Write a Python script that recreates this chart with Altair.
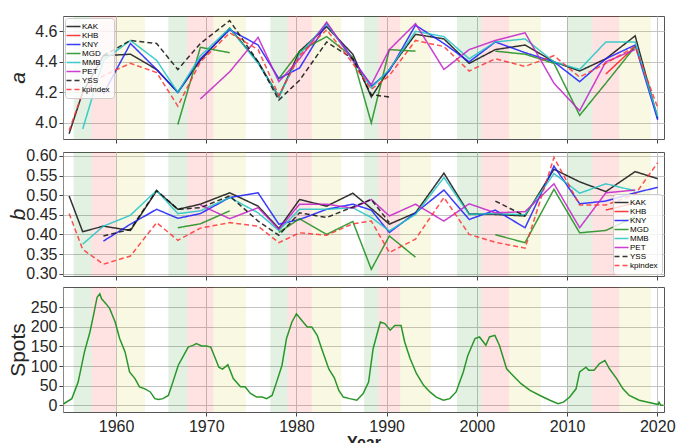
import altair as alt
import pandas as pd

# ---------------- data ----------------
stations = ["KAK", "KHB", "KNY", "MGD", "MMB", "PET", "YSS", "kpindex"]
station_colors = ["#111111", "#ff1a1a", "#1a1aff", "#1a8c1a", "#1fc4c4", "#c21fc9", "#111111", "#ff3333"]
station_dash = [[1, 0], [1, 0], [1, 0], [1, 0], [1, 0], [1, 0], [5, 3], [5, 3]]

years = [1954.8, 1956.3, 1958.6, 1961.6, 1964.5, 1966.85, 1969.35, 1972.6, 1975.75,
         1978.05, 1980.35, 1983.35, 1986.25, 1988.3, 1990.3, 1993.2, 1996.35, 1999.15,
         2002.05, 2005.35, 2008.55, 2011.4, 2014.3, 2017.55, 2020.05]
N = None

a_KAK = [3.93, 4.20, 4.44, 4.45, 4.35, 4.20, 4.41, 4.62, 4.40, 4.17, 4.47, 4.63, 4.45,
         4.17, 4.35, 4.58, 4.55, 4.39, 4.48, 4.51, 4.40, 4.34, 4.42, 4.57, 4.03]
a_KHB = [N, N, N, N, N, N, N, N, N, N, N, N, N, N, N, N, N, N, N, N, N, N, 4.32, 4.50, N]
a_KNY = [N, N, 4.19, 4.52, 4.35, 4.20, 4.42, 4.61, 4.51, 4.29, 4.36, 4.65, 4.42,
         4.24, 4.34, 4.64, 4.52, 4.40, 4.53, 4.46, 4.40, 4.27, 4.42, 4.51, 4.02]
a_MGD = [N, N, N, N, N, 3.99, 4.495, 4.46, N, 4.29, 4.47, 4.565, 4.43,
         4.00, 4.48, 4.47, N, N, 4.47, 4.45, 4.39, 4.05, 4.26, 4.50, N]
a_MMB = [N, 3.96, 4.41, 4.54, 4.41, 4.20, 4.44, 4.62, 4.39, 4.17, 4.45, 4.65, 4.41,
         4.23, 4.35, 4.60, 4.565, 4.42, 4.53, 4.55, 4.40, 4.35, 4.53, 4.53, 4.04]
a_PET = [N, N, N, N, N, N, 4.157, 4.335, 4.56, 4.27, 4.42, 4.66, 4.41,
         4.25, 4.48, 4.65, 4.35, 4.48, 4.54, 4.59, 4.26, 4.08, 4.40, 4.48, N]
a_YSS = [N, N, 4.44, 4.54, 4.52, 4.35, 4.52, 4.67, 4.40, 4.15, 4.28, 4.53, 4.42,
         4.185, 4.17, N, N, N, N, N, N, N, N, N, N]
a_kp = [3.95, 4.20, 4.31, 4.39, 4.33, 4.11, 4.40, 4.59, 4.48, 4.18, 4.44, 4.61, 4.39,
        4.22, 4.31, 4.54, 4.50, 4.34, 4.42, 4.37, 4.44, 4.30, 4.39, 4.50, 4.10]

b_KAK = [0.498, 0.407, 0.421, 0.410, 0.511, 0.464, 0.477, 0.506, 0.472, 0.415, 0.489, 0.472, 0.505,
         0.466, 0.426, 0.455, 0.556, 0.452, 0.451, 0.447, 0.566, 0.534, 0.509, 0.560, 0.542]
b_KHB = [N, N, N, N, N, N, N, N, N, N, N, N, N, N, N, N, N, N, N, N, N, N, 0.462, 0.480, N]
b_KNY = [N, N, 0.383, 0.426, 0.464, 0.441, 0.453, 0.494, 0.506, 0.426, 0.438, 0.464, 0.477,
         0.462, 0.405, 0.455, 0.513, 0.438, 0.462, 0.417, 0.574, 0.478, 0.485, 0.506, 0.520]
b_MGD = [N, N, N, N, N, 0.417, 0.427, 0.460, N, 0.405, 0.440, 0.400, 0.433,
         0.311, 0.396, 0.342, N, N, 0.399, 0.379, 0.515, 0.404, 0.410, 0.445, N]
b_MMB = [N, 0.375, 0.421, 0.449, 0.512, 0.453, 0.460, 0.494, 0.455, 0.410, 0.464, 0.464, 0.468,
         0.443, 0.409, 0.451, 0.545, 0.451, 0.453, 0.450, 0.555, 0.505, 0.529, 0.511, N]
b_PET = [N, N, N, N, N, N, 0.475, 0.440, 0.468, 0.413, 0.477, 0.477, 0.467,
         0.489, 0.447, 0.477, 0.434, 0.478, 0.455, 0.458, 0.529, 0.417, 0.506, 0.513, N]
b_YSS = [N, N, 0.396, 0.413, 0.512, 0.464, 0.468, 0.498, 0.434, 0.398, 0.455, 0.443, 0.470,
         0.489, 0.430, N, N, N, 0.485, 0.447, N, N, N, N, N]
b_kp = [0.453, 0.362, 0.324, 0.345, 0.430, 0.385, 0.416, 0.430, 0.421, 0.379, 0.404, 0.398, 0.427,
        0.434, 0.354, 0.388, 0.494, 0.400, 0.380, 0.365, 0.596, 0.475, 0.475, 0.502, 0.583]

spot_year = [1954.2, 1955.1, 1955.8, 1956.5, 1957.1, 1957.5, 1957.9, 1958.2, 1958.4, 1958.9,
             1959.3, 1959.9, 1960.4, 1961.0, 1961.5, 1962.1, 1962.6, 1963.2, 1963.8, 1964.3,
             1964.7, 1965.2, 1965.8, 1966.3, 1966.9, 1967.5, 1968.0, 1968.6, 1968.9, 1969.5,
             1970.0, 1970.5, 1970.8, 1971.4, 1971.8, 1972.4, 1973.0, 1973.8, 1974.3, 1974.9,
             1975.6, 1976.2, 1976.7, 1977.3, 1977.8, 1978.4, 1978.9, 1979.5, 1980.0, 1980.6,
             1981.2, 1981.7, 1982.3, 1982.8, 1983.6, 1984.2, 1984.7, 1985.2, 1985.9, 1986.7,
             1987.4, 1988.0, 1988.5, 1989.3, 1989.8, 1990.4, 1990.9, 1991.6, 1992.0, 1992.6,
             1993.3, 1994.1, 1994.8, 1995.5, 1996.3, 1997.0, 1997.7, 1998.5, 1999.0, 1999.8,
             2000.3, 2001.0, 2001.4, 2002.0, 2002.5, 2003.3, 2004.0, 2004.9, 2005.9, 2007.0,
             2008.1, 2009.0, 2009.6, 2010.3, 2011.0, 2011.4, 2012.1, 2012.4, 2013.0, 2013.6,
             2014.2, 2014.7, 2015.5, 2016.2, 2016.9, 2018.0, 2019.1, 2020.1, 2020.2, 2020.4,
             2020.7]
spot_val = [4, 17, 59, 136, 186, 229, 275, 284, 271, 258,
            246, 212, 170, 136, 85, 68, 47, 42, 34, 17,
            15, 17, 25, 59, 102, 127, 148, 153, 157, 151,
            151, 148, 131, 97, 92, 103, 68, 47, 47, 30,
            21, 21, 17, 25, 59, 102, 170, 212, 233, 216,
            199, 199, 178, 144, 92, 70, 38, 21, 17, 13,
            30, 59, 144, 212, 208, 191, 203, 203, 161, 119,
            81, 51, 34, 21, 13, 17, 34, 85, 127, 170,
            174, 153, 174, 178, 153, 93, 76, 55, 38, 25,
            13, 4, 8, 21, 42, 85, 97, 89, 89, 106,
            114, 93, 68, 42, 25, 13, 7, 2, 8, 0,
            0]

band_start = [1955.3, 1957.3, 1960.0, 1965.8, 1967.9, 1970.8, 1977.1, 1979.0, 1981.7,
              1987.5, 1989.1, 1991.5, 1997.8, 2000.5, 2003.6, 2010.0, 2012.8, 2015.8]
band_end = [1957.3, 1960.0, 1963.2, 1967.9, 1970.8, 1974.4, 1979.0, 1981.7, 1985.0,
            1989.1, 1991.5, 1994.9, 2000.5, 2003.6, 2007.1, 2012.8, 2015.8, 2019.3]
band_phase = ["rise", "max", "decline"] * 6
phase_colors = {"rise": "#008000", "max": "#ff0000", "decline": "#bfbf00"}

decades = [1960, 1970, 1980, 1990, 2000, 2010, 2020]
X_DOMAIN = [1954.12, 2020.75]
W = 601
FONT = "Liberation Sans"

bands = pd.DataFrame({"start": band_start, "end": band_end, "phase": band_phase})


def line_frame(series_lists):
    rows = []
    for name, vals in zip(stations, series_lists):
        seg = 0
        prev = False
        for yr, v in zip(years, vals):
            if v is None:
                if prev:
                    seg += 1
                prev = False
                continue
            rows.append({"station": name, "year": yr, "val": v, "seg": f"{name}-{seg}"})
            prev = True
    return pd.DataFrame(rows)


def band_layers(h):
    layers = []
    for ph, col in phase_colors.items():
        layers.append(
            alt.Chart(bands[bands.phase == ph]).mark_rect(color=col, opacity=0.11).encode(
                x=alt.X("start:Q", scale=alt.Scale(domain=X_DOMAIN, nice=False, zero=False)),
                x2="end:Q",
                y=alt.value(0),
                y2=alt.value(h),
            )
        )
    return layers


def x_axis(labels):
    if labels:
        return alt.Axis(values=decades, format="d", title="Year", titleFontSize=16,
                        titlePadding=0, grid=True, ticks=True, tickSize=4, labelPadding=2,
                        domain=False)
    return alt.Axis(values=decades, labels=False, title=None, grid=True, ticks=True,
                    tickSize=4, domain=False)


def station_panel(series_lists, h, domain, ticks, fmt, title, legend_orient):
    df = line_frame(series_lists)
    legend = alt.Legend(title=None, orient=legend_orient, offset=2, labelFontSize=8,
                        symbolType="M-2,0L2,0", symbolSize=49, symbolStrokeWidth=1.5,
                        rowPadding=0, padding=4, fillColor="rgba(255,255,255,0.8)",
                        strokeColor="#cccccc", cornerRadius=3, labelFont=FONT, labelOffset=4)
    lines = alt.Chart(df).mark_line(strokeWidth=1.5, opacity=0.85, clip=True).encode(
        x=alt.X("year:Q", scale=alt.Scale(domain=X_DOMAIN, nice=False, zero=False),
                axis=x_axis(False)),
        y=alt.Y("val:Q", scale=alt.Scale(domain=domain, nice=False, zero=False),
                axis=alt.Axis(values=ticks, format=fmt, title=title, titleFontStyle="italic",
                              titleFontSize=21, titleFontWeight="normal", titleX=-45,
                              titleY=h / 2, titleAngle=270, titleBaseline="middle",
                              titleAlign="center", tickSize=4, labelPadding=2)),
        color=alt.Color("station:N", scale=alt.Scale(domain=stations, range=station_colors),
                        legend=legend),
        strokeDash=alt.StrokeDash("station:N",
                                  scale=alt.Scale(domain=stations, range=station_dash),
                                  legend=legend),
        detail="seg:N",
    )
    return alt.layer(*band_layers(h), lines).properties(width=W, height=h)


panel_a = station_panel([a_KAK, a_KHB, a_KNY, a_MGD, a_MMB, a_PET, a_YSS, a_kp],
                        123, [3.895, 4.70], [4.0, 4.2, 4.4, 4.6], ".1f", "a", "top-left")
panel_b = station_panel([b_KAK, b_KHB, b_KNY, b_MGD, b_MMB, b_PET, b_YSS, b_kp],
                        124, [0.294, 0.61], [0.30, 0.35, 0.40, 0.45, 0.50, 0.55, 0.60], ".2f",
                        "b", "bottom-right")

spots_df = pd.DataFrame({"year": spot_year, "spots": spot_val})
H3 = 125
spots_line = alt.Chart(spots_df).mark_line(color="#2a962a", strokeWidth=1.5, clip=True).encode(
    x=alt.X("year:Q", scale=alt.Scale(domain=X_DOMAIN, nice=False, zero=False),
            axis=x_axis(True)),
    y=alt.Y("spots:Q", scale=alt.Scale(domain=[-17, 301], nice=False, zero=False),
            axis=alt.Axis(values=[0, 50, 100, 150, 200, 250], format="d", title="Spots",
                          titleFontSize=21, titleFontWeight="normal", titleX=-45,
                          titleY=H3 / 2, titleAngle=270, titleBaseline="middle",
                          titleAlign="center", tickSize=4, labelPadding=2)),
)
panel_c = alt.layer(*band_layers(H3), spots_line).properties(width=W, height=H3)

chart = alt.vconcat(panel_a, panel_b, panel_c, spacing=3).resolve_scale(
    color="independent", strokeDash="independent"
).resolve_legend(
    color="independent", strokeDash="independent"
).properties(
    padding={"left": 6, "top": 15, "right": 0, "bottom": 0}
).configure_view(
    stroke="#555555", strokeWidth=1
).configure_axis(
    labelFont=FONT, titleFont=FONT, labelFontSize=16, labelColor="#262626",
    titleColor="#262626", gridColor="#c4c4c4", gridWidth=1, tickColor="#444444",
).configure_legend(
    labelFont=FONT
)

chart.save("out.html", embed_options={"renderer": "svg", "actions": False})
